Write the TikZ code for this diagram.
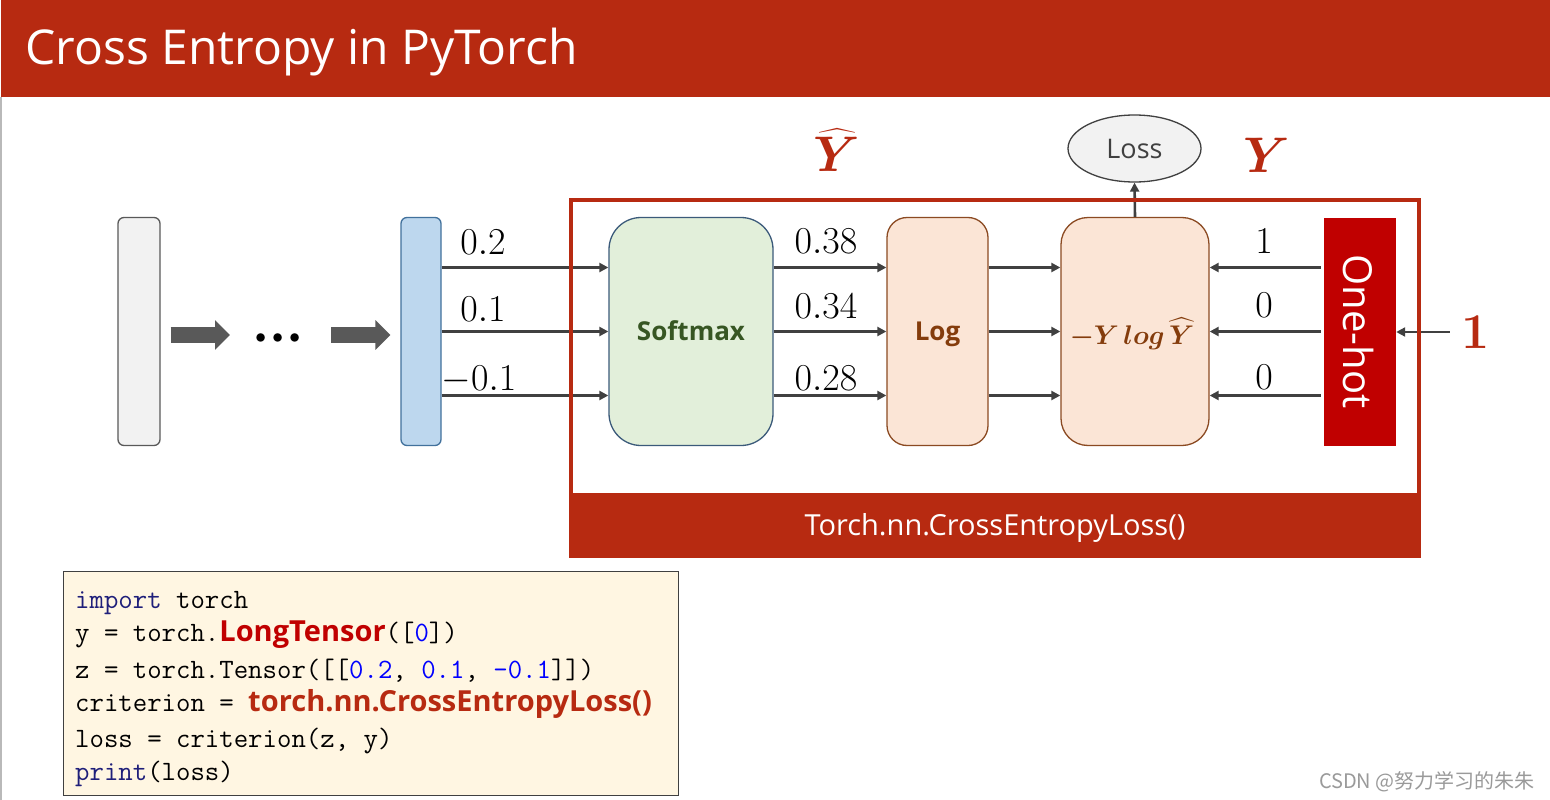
\RequirePackage{fix-cm}
\documentclass[tikz,border=0pt]{standalone}
\usepackage{amsmath}
\usepackage{bm}
\usepackage{fontspec}
\setsansfont{Open Sans}
\newfontfamily\osans{Open Sans}
\newfontfamily\cjkfont{Noto Sans CJK SC}
\usetikzlibrary{arrows.meta,shapes.geometric}
\definecolor{titlered}{HTML}{B72A11}
\definecolor{onehotred}{HTML}{C00000}
\definecolor{arrowgray}{HTML}{404040}
\definecolor{bigarrowgray}{HTML}{595959}
\definecolor{greyfill}{HTML}{F2F2F2}
\definecolor{bluefill}{HTML}{BDD7EE}
\definecolor{blueline}{HTML}{41719C}
\definecolor{greenfill}{HTML}{E2EFDA}
\definecolor{greenline}{HTML}{3B5A7A}
\definecolor{greentext}{HTML}{375623}
\definecolor{peachfill}{HTML}{FBE5D6}
\definecolor{brownline}{HTML}{8B4A22}
\definecolor{browntext}{HTML}{843C0C}
\definecolor{cream}{HTML}{FFF6E2}
\definecolor{kwblue}{HTML}{1F1F7A}
\definecolor{numblue}{HTML}{0000FF}
\definecolor{wmgray}{HTML}{9A9A9A}
\newcommand\fsz[1]{\fontsize{#1}{#1}\selectfont}
\begin{document}
\begin{tikzpicture}[x=1pt,y=-1pt,
  stage/.style={draw, line width=1.3pt, minimum height=228pt, inner sep=0pt},
  conn/.style={draw=arrowgray, line width=2.6pt, -{Triangle[length=9pt,width=9pt]}},
  bigarrow/.style={draw=bigarrowgray, line width=16pt, -{Triangle[length=15pt,width=29pt]}},
  numlab/.style={inner sep=0pt, font=\fsz{38}},
  boxtext/.style={text height=18.6pt, text depth=0pt, font=\osans\bfseries\fsz{26}},
  codeline/.style={anchor=base west, inner sep=0pt, font=\ttfamily\fsz{28}}
]
\useasboundingbox (0,0) rectangle (1550,800);
\fill[white] (0,0) rectangle (1550,800);
% title bar
\fill[titlered] (1,0) rectangle (1550,97);
\draw[gray!55, line width=1.5pt] (0.75,97) -- (0.75,800);
\node[anchor=base west, inner sep=0pt, text=white, font=\osans\fsz{48}] (title) at (25,64) {Cross Entropy in PyTorch};

% left part
\node[stage, draw=bigarrowgray, fill=greyfill, minimum width=42pt, rounded corners=6pt] (grey) at (139,331.5) {};
\node[inner sep=0pt, font=\fsz{54}] (dots) at (278,338.5) {$\bm{\mathord{\cdotp}\mathord{\cdotp}\mathord{\cdotp}}$};
\node[stage, draw=blueline, fill=bluefill, minimum width=40pt, rounded corners=6pt] (blue) at (421,331.5) {};
\coordinate (arrowAend) at (230,335);
\coordinate (arrowBstart) at (331,335);
\draw[bigarrow, shorten <=10pt] (grey.east |- arrowAend) -- (arrowAend);
\draw[bigarrow, shorten >=10pt] (arrowBstart) -- (blue.west |- arrowBstart);

% stages
\node[stage, draw=greenline, fill=greenfill, minimum width=164pt, rounded corners=32pt, boxtext, text=greentext] (soft) at (691,331.5) {Softmax};
\node[stage, draw=brownline, fill=peachfill, minimum width=101pt, rounded corners=20pt, boxtext, text=browntext] (log) at (937.5,331.5) {Log};
\node[stage, draw=brownline, fill=peachfill, minimum width=148pt, rounded corners=27pt] (ybox) at (1135,331.5) {};
\node[inner sep=0pt, text=browntext, font=\fsz{27}] (ylog) at (1132,334) {$\bm{-Y\,log\,\widehat{Y}}$};
\node[fill=onehotred, minimum width=72pt, minimum height=228pt, inner sep=0pt] (onehot) at (1360,331.5) {};
\node[rotate=-90, inner sep=0pt, text=white, font=\osans\fsz{40}] (onehottext) at (1358,331.5) {One-hot};

% connectors
\foreach \dy in {64,0,-64} {
  \draw[conn] ([yshift=\dy pt]blue.east) -- ([yshift=\dy pt]soft.west);
  \draw[conn] ([yshift=\dy pt]soft.east) -- ([yshift=\dy pt]log.west);
  \draw[conn] ([yshift=\dy pt]log.east) -- ([yshift=\dy pt]ybox.west);
  \draw[conn, shorten <=3pt] ([yshift=\dy pt]onehot.west) -- ([yshift=\dy pt]ybox.east);
}

% number labels
\node[numlab] (a1) at (483,242) {$0.2$};
\node[numlab] (a2) at (483,309) {$0.1$};
\node[numlab] (a3) at (479,380) {$-0.1$};
\node[numlab] (b1) at (826,241) {$0.38$};
\node[numlab] (b2) at (826,306) {$0.34$};
\node[numlab] (b3) at (826,378) {$0.28$};
\node[numlab] (c1) at (1264,241) {$1$};
\node[numlab] (c2) at (1264,305) {$0$};
\node[numlab] (c3) at (1264,377) {$0$};

% loss
\node[ellipse, draw=arrowgray, line width=1.3pt, fill=greyfill, minimum width=133pt, minimum height=67pt, inner sep=0pt, text=arrowgray, font=\osans\fsz{27}] (loss) at (1134.5,148.5) {Loss};
\draw[conn] (ybox.north) -- (loss.south);

% Y labels
\node[inner sep=0pt, text=titlered, font=\fsz{50}] (yhat) at (837,150) {$\bm{\widehat{Y}}$};
\node[inner sep=0pt, text=titlered, font=\fsz{50}] (ytrue) at (1267,155.5) {$\bm{Y}$};
\node[inner sep=0pt, text=titlered, font=\fsz{50}] (one1) at (1476,332) {$\bm{1}$};
\draw[conn, shorten <=12pt] (one1.west) -- (onehot.east |- one1.west);

% red frame
\draw[titlered, line width=4pt] (571,200) rectangle (1419,556);
\fill[titlered] (571,493) rectangle (1419,556);
\node[anchor=base, inner sep=0pt, text=white, font=\osans\fsz{29}] (ceName) at (995,535) {Torch.nn.CrossEntropyLoss()};

% code box
\node[draw=arrowgray, line width=1.3pt, fill=cream, minimum width=615pt, minimum height=224pt, anchor=north west, inner sep=0pt] (code) at (63,571) {};
\node[codeline] (l1) at (75,608) {\textcolor{kwblue}{import} torch};
\node[codeline] (l2) at (75,641) {y = torch.{\color{onehotred}\osans\bfseries\fsz{29}LongTensor}([{\color{numblue}0}])};
\node[codeline] (l3) at (75,678) {z = torch.Tensor([[{\color{numblue}0.2}, {\color{numblue}0.1}, {\color{numblue}-0.1}]])};
\node[codeline] (l4) at (75,711) {criterion = {\color{titlered}\osans\bfseries\fsz{29}torch.nn.CrossEntropyLoss()}};
\node[codeline] (l5) at (75,747) {loss = criterion(z, y)};
\node[codeline] (l6) at (75,780) {\textcolor{kwblue}{print}(loss)};

% watermark
\node[anchor=base east, inner sep=0pt, text=wmgray, font=\cjkfont\fsz{20}] (wm) at (1535,788) {CSDN @努力学习的朱朱};
\end{tikzpicture}
\end{document}
